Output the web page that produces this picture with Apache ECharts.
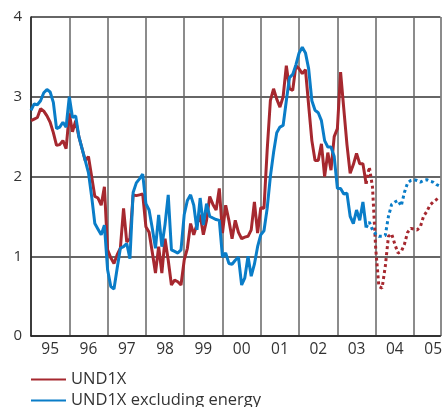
<!DOCTYPE html>
<html>
<head>
<meta charset="utf-8">
<script src="https://cdn.jsdelivr.net/npm/echarts@6/dist/echarts.min.js"></script>
<style>
  html, body { margin: 0; padding: 0; background: #fff; }
  #main { width: 445px; height: 407px; }
</style>
</head>
<body>
<div id="main"></div>
<script>
// monthly values, Jan 1995 onwards; forecast (dotted) starts at index 105
var startYear = 1995;
var forecastFrom = 105;
var yearLabels = ['95', '96', '97', '98', '99', '00', '01', '02', '03', '04', '05'];

var und1x = [
  2.70, 2.72, 2.74, 2.85, 2.82, 2.76, 2.68, 2.55, 2.39, 2.40, 2.45, 2.35,
  2.79, 2.56, 2.70, 2.50, 2.35, 2.20, 2.25, 2.00, 1.75, 1.73, 1.64, 1.87,
  1.08, 0.98, 0.91, 1.02, 1.10, 1.60, 1.18, 1.22, 1.77, 1.76, 1.77, 1.78,
  1.37, 1.30, 1.05, 0.79, 1.12, 0.79, 1.22, 0.95, 0.64, 0.70, 0.68, 0.64,
  0.95, 1.10, 1.41, 1.27, 1.40, 1.52, 1.27, 1.45, 1.75, 1.65, 1.58, 1.85,
  1.29, 1.64, 1.45, 1.22, 1.45, 1.30, 1.22, 1.24, 1.25, 1.33, 1.68, 1.29,
  1.61, 1.60, 2.33, 2.95, 3.10, 2.97, 2.87, 3.00, 3.39, 3.10, 3.08, 3.39,
  3.35, 3.29, 3.34, 2.89, 2.45, 2.20, 2.20, 2.41, 2.00, 2.30, 2.08, 2.50,
  2.60, 3.31, 2.85, 2.40, 2.04, 2.15, 2.29, 2.16, 2.16, 1.91, 2.12, 1.87,
  1.10, 0.62, 0.60, 0.87, 1.25, 1.28, 1.15, 1.04, 1.06, 1.15, 1.30, 1.35,
  1.34, 1.33, 1.37, 1.50, 1.56, 1.64, 1.68, 1.71, 1.74
];

var und1xExEnergy = [
  2.83, 2.91, 2.90, 2.95, 3.05, 3.09, 3.06, 2.93, 2.60, 2.62, 2.68, 2.62,
  3.00, 2.74, 2.76, 2.50, 2.35, 2.20, 2.05, 1.75, 1.41, 1.34, 1.27, 1.39,
  0.83, 0.62, 0.59, 0.85, 1.10, 1.12, 1.16, 0.97, 1.80, 1.92, 1.97, 2.03,
  1.66, 1.58, 1.35, 1.10, 1.52, 1.12, 1.40, 1.77, 1.08, 1.06, 1.04, 1.08,
  1.52, 1.70, 1.77, 1.64, 1.33, 1.73, 1.39, 1.66, 1.50, 1.48, 1.46, 1.45,
  0.99, 1.04, 0.91, 0.90, 0.95, 0.99, 0.64, 0.73, 1.00, 0.75, 0.90, 1.12,
  1.27, 1.32, 1.60, 2.00, 2.30, 2.55, 2.62, 2.64, 2.95, 3.24, 3.28, 3.40,
  3.55, 3.62, 3.55, 3.35, 2.95, 2.83, 2.80, 2.70, 2.45, 2.37, 2.37, 2.25,
  1.85, 1.85, 1.78, 1.79, 1.50, 1.41, 1.58, 1.45, 1.68, 1.36, 1.43, 1.33,
  1.28, 1.25, 1.25, 1.26, 1.50, 1.65, 1.68, 1.70, 1.63, 1.80, 1.92, 1.95,
  1.96, 1.95, 1.93, 1.95, 1.96, 1.94, 1.93, 1.90, 1.88
];

var red = '#A6282F';
var blue = '#0A7DC8';

function part(arr, from, to) {
  var out = [];
  for (var i = from; i <= to && i < arr.length; i++) {
    out.push([startYear + i / 12, arr[i]]);
  }
  return out;
}

var labelPos = yearLabels.map(function (s, i) { return startYear + i + 0.5; });

function legendAt(top, name) {
  return {
    orient: 'vertical',
    left: 26,
    top: top,
    itemWidth: 35,
    itemHeight: 2,
    itemGap: 0,
    icon: 'rect',
    data: [name],
    textStyle: { fontSize: 16.5, color: '#333', fontFamily: 'Open Sans' }
  };
}

var myChart = echarts.init(document.getElementById('main'));

var option = {
  animation: false,
  textStyle: { fontFamily: 'Open Sans' },
  grid: { left: 31, top: 17, right: 0, bottom: 71 },
  legend: [
    legendAt(366, 'UND1X'),
    legendAt(387, 'UND1X excluding energy')
  ],
  xAxis: {
    type: 'value',
    min: startYear,
    max: 2005.69,
    interval: 1,
    axisLine: { show: true, onZero: false, lineStyle: { color: '#222', width: 1.5 } },
    axisTick: { show: false },
    splitLine: { show: true, lineStyle: { color: '#666', width: 1.5 } },
    axisLabel: {
      customValues: labelPos,
      fontSize: 15.5,
      color: '#333',
      margin: 6,
      formatter: function (v) {
        return yearLabels[Math.floor(v) - startYear];
      }
    }
  },
  yAxis: {
    type: 'value',
    min: 0,
    max: 4,
    interval: 1,
    axisLine: { show: true, lineStyle: { color: '#222', width: 1.5 } },
    axisTick: { show: false },
    splitLine: { lineStyle: { color: '#333', width: 1.5 } },
    axisLabel: { fontSize: 15, color: '#333', margin: 9 }
  },
  series: [
    {
      name: 'UND1X', type: 'line', showSymbol: false, z: 3,
      color: red, lineStyle: { color: red, width: 3 },
      data: part(und1x, 0, forecastFrom)
    },
    {
      name: 'UND1X excluding energy', type: 'line', showSymbol: false, z: 4,
      color: blue, lineStyle: { color: blue, width: 3 },
      data: part(und1xExEnergy, 0, forecastFrom)
    },
    {
      name: 'UND1X forecast', type: 'line', showSymbol: false, z: 3,
      lineStyle: { color: red, width: 3, type: [3, 3] },
      data: part(und1x, forecastFrom, und1x.length - 1)
    },
    {
      name: 'UND1X excluding energy forecast', type: 'line', showSymbol: false, z: 4,
      lineStyle: { color: blue, width: 3, type: [3, 3] },
      data: part(und1xExEnergy, forecastFrom, und1xExEnergy.length - 1)
    }
  ]
};

myChart.setOption(option);
</script>
</body>
</html>
